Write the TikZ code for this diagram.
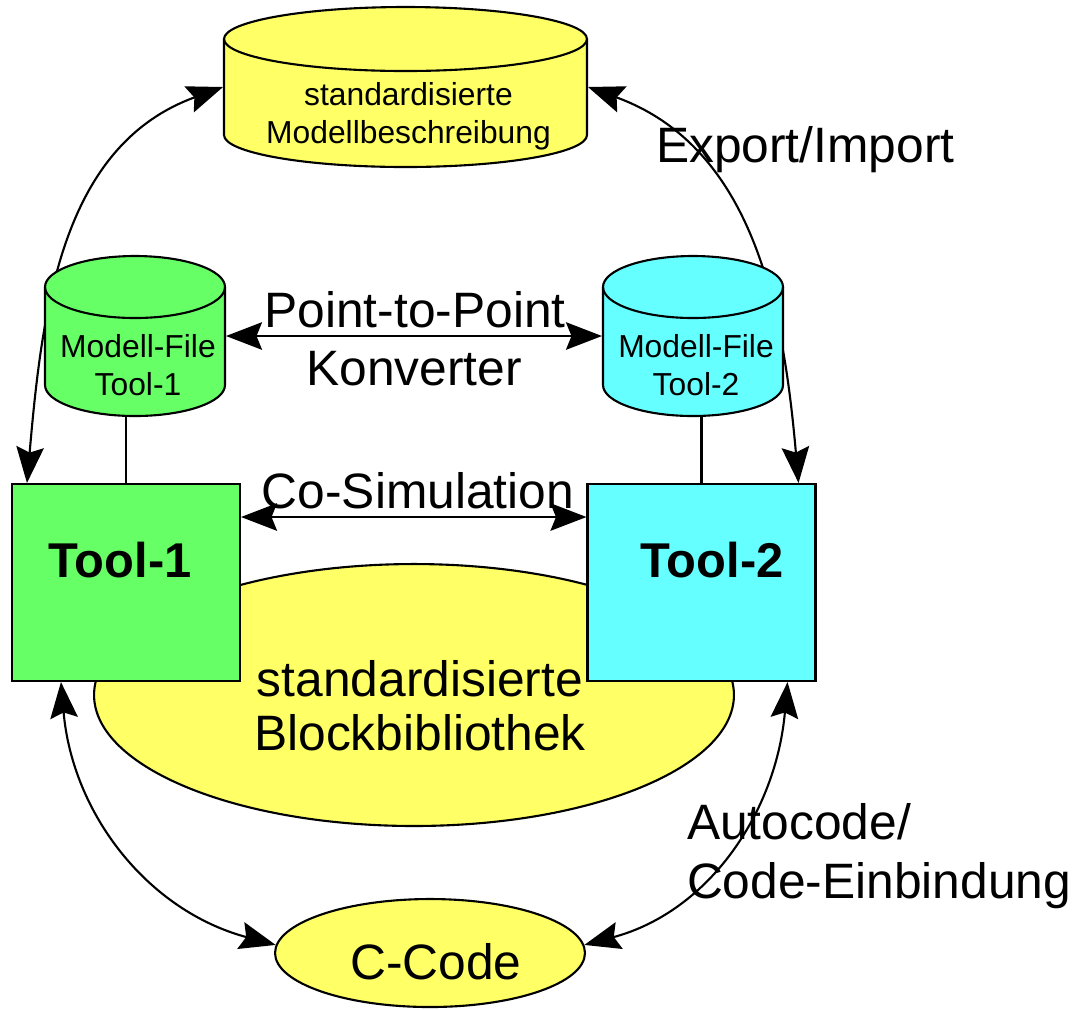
\documentclass[tikz,border=0pt]{standalone}
\usepackage{fontspec}
\setmainfont{Liberation Sans}
\usetikzlibrary{arrows.meta,shapes.geometric}

\definecolor{gelb}{HTML}{FFFF66}
\definecolor{gruen}{HTML}{66FF66}
\definecolor{tuerkis}{HTML}{66FFFF}

\newcommand*{\GrossSchrift}{\fontsize{28.3}{30.6}\selectfont}
\newcommand*{\KleinSchrift}{\fontsize{18.1}{21.5}\selectfont}
\newcommand*{\ToolSchrift}{\fontsize{27.8}{30}\selectfont\bfseries}

% Zylinder: Name, Mitte, halbe Breite, halbe Hoehe, Radius Deckel, Farbe, Text
\newcommand{\Speicher}[7]{
  \begin{scope}[shift={#2}]
    \filldraw[fill=#6] (-#3,#4) -- (-#3,-#4)
      arc[start angle=180, end angle=360, x radius=#3, y radius=#5]
      -- (#3,#4)
      arc[start angle=0, end angle=180, x radius=#3, y radius=#5] -- cycle;
    \draw (-#3,#4) arc[start angle=180, end angle=360, x radius=#3, y radius=#5];
    \node[inner sep=0pt, minimum width={#3*0.04cm}, minimum height={#4*0.04cm}] (#1) at (0,0) {};
    \coordinate (#1-bottom) at (0,-#4-#5);
    \node[align=center, font=\KleinSchrift, inner sep=0pt] (#1-text) at (3,-29) {#7};
  \end{scope}}

\begin{document}
\begin{tikzpicture}[x=0.02cm, y=0.02cm, line width=1.2pt,
    >={Stealth[length=7.2mm,width=5.5mm,inset=1.1mm]},
    tool/.style={draw, rectangle, minimum width=4.56cm, minimum height=3.94cm},
    gross/.style={font=\GrossSchrift, inner sep=0pt}]
  \useasboundingbox (0,0) rectangle (1087,-1009);

  % Blockbibliothek
  \node[ellipse, draw, fill=gelb, minimum width=12.8cm, minimum height=5.24cm] (blockbib) at (414,-695) {};
  \node[gross, anchor=base] (bib1) at (420,-696) {standardisierte};
  \node[gross, anchor=base] (bib2) at (420,-750) {Blockbibliothek};

  % Tools
  \node[tool, fill=gruen] (tool1) at (126,-582.5) {};
  \node[tool, fill=tuerkis] (tool2) at (701.5,-582.5) {};
  \node[font=\ToolSchrift, anchor=base, inner sep=0pt] (tool1-text) at (120,-577) {Tool-1};
  \node[font=\ToolSchrift, anchor=base, inner sep=0pt] (tool2-text) at (712,-577) {Tool-2};

  % Modellbeschreibung
  \Speicher{modell}{(405.5,-87)}{181.5}{48}{32}{gelb}{standardisierte\\Modellbeschreibung}

  \draw[<->] ([xshift=0.32cm]tool1.north west) to[out=85, in=200] (modell.west);
  \draw[<->] ([xshift=-0.36cm]tool2.north east) to[out=95, in=-20] (modell.east);

  % Modell-Files
  \Speicher{file1}{(135,-336)}{90}{49}{31}{gruen}{Modell-File\\Tool-1}
  \Speicher{file2}{(693,-336)}{90}{49}{31}{tuerkis}{Modell-File\\Tool-2}

  \draw (tool1.north) -- (tool1.north |- file1-bottom);
  \draw (tool2.north) -- (tool2.north |- file2-bottom);

  \draw[<->] (file1.east) -- (file2.west);
  \node[gross, anchor=base] (ptp) at (415,-327) {Point-to-Point};
  \node[gross, anchor=base] (konv) at (414,-385) {Konverter};

  \coordinate (cosim-y) at (0,-517);
  \draw[<->] (tool1.east |- cosim-y) -- (tool2.west |- cosim-y);
  \node[gross, anchor=base] (cosim) at (418,-508) {Co-Simulation};

  % C-Code
  \node[ellipse, draw, fill=gelb, minimum width=6.2cm, minimum height=2.16cm] (ccode) at (430,-953) {};
  \node[gross, anchor=base] (ccode-text) at (436,-979) {C-Code};

  \draw[<->] ([xshift=1cm]tool1.south west) to[out=-85, in=165] (ccode.177);
  \draw[<->] ([xshift=-0.58cm]tool2.south east) to[out=-95, in=15] (ccode.3);

  \node[gross, anchor=base west] (expimp) at (655,-162) {Export/Import};
  \node[gross, anchor=base west] (auto1) at (686,-839) {Autocode/};
  \node[gross, anchor=base west] (auto2) at (686,-898) {Code-Einbindung};
\end{tikzpicture}
\end{document}
